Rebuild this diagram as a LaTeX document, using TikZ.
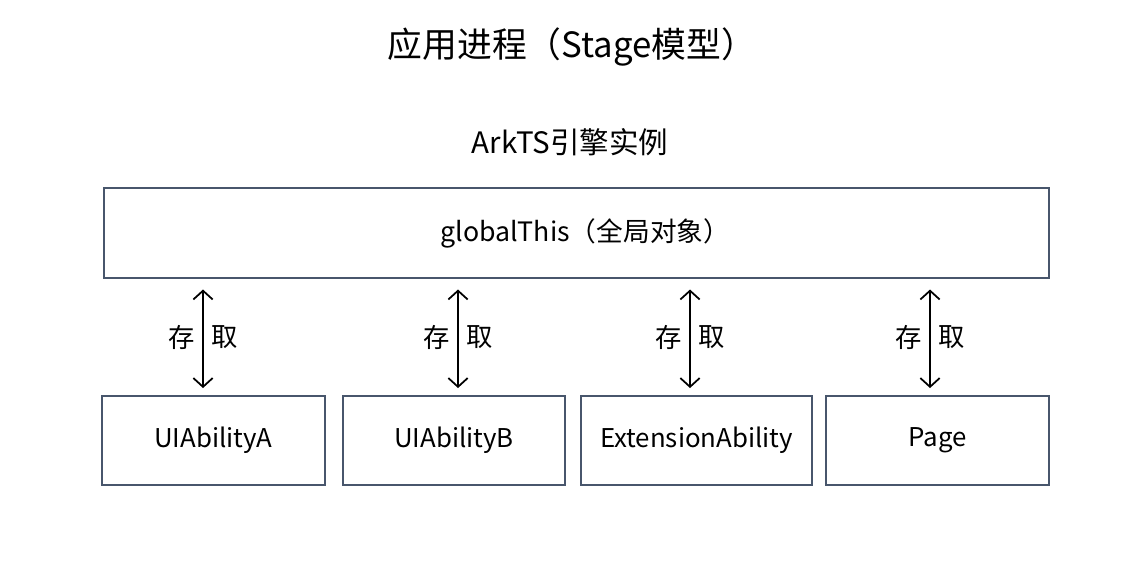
\documentclass[tikz,border=0pt]{standalone}
\usepackage{fontspec}
\setmainfont{Noto Sans CJK SC}
\usetikzlibrary{arrows.meta,positioning}

\definecolor{boxline}{RGB}{72,86,108}

\tikzset{
  box/.style={draw=boxline,line width=1.1pt,fill=white,inner sep=0pt,
    font=\fontsize{14.7pt}{17pt}\selectfont},
  small/.style={box,minimum height=1.78cm},
  access/.style={<->,line width=1pt,shorten <=6pt,shorten >=4pt,
    >={Straight Barb[length=5pt,width=11pt]}},
  cjk/.style={font=\fontsize{15pt}{18pt}\selectfont}
}

\begin{document}
\begin{tikzpicture}[x=0.02cm,y=-0.02cm]

\useasboundingbox (0,0) rectangle (1141,566);

%titles
\node[font=\fontsize{19.8pt}{23pt}\selectfont] (title) at (572,47) {应用进程（Stage模型）};
\node[font=\fontsize{16.8pt}{20pt}\selectfont] (engine) at (570,142) {ArkTS引擎实例};

%global object
\node[box,minimum width=18.9cm,minimum height=1.8cm,
  font=\fontsize{15.2pt}{18pt}\selectfont] (global) at (576.5,233)
  {\hspace{10pt}globalThis（全局对象）};

%users of globalThis
\node[small,minimum width=4.46cm] (uiA) at (213.5,440.5) {UIAbilityA};
\node[small,minimum width=4.44cm] (uiB) at (454,440.5) {UIAbilityB};
\node[small,minimum width=4.62cm] (ext) at (696.5,440.5) {ExtensionAbility};
\node[small,minimum width=4.46cm] (page) at (937.5,440.5) {Page};

%access arrows
\foreach \n/\dx in {uiA/-0.21,uiB/0.08,ext/-0.13,page/-0.15}{
  \draw[access] ([xshift=\dx cm]global.south -| \n.north) -- ([xshift=\dx cm]\n.north)
    node[midway,cjk,anchor=east,xshift=-1pt] {存}
    node[midway,cjk,anchor=west,xshift=1pt] {取};
}

\end{tikzpicture}
\end{document}
